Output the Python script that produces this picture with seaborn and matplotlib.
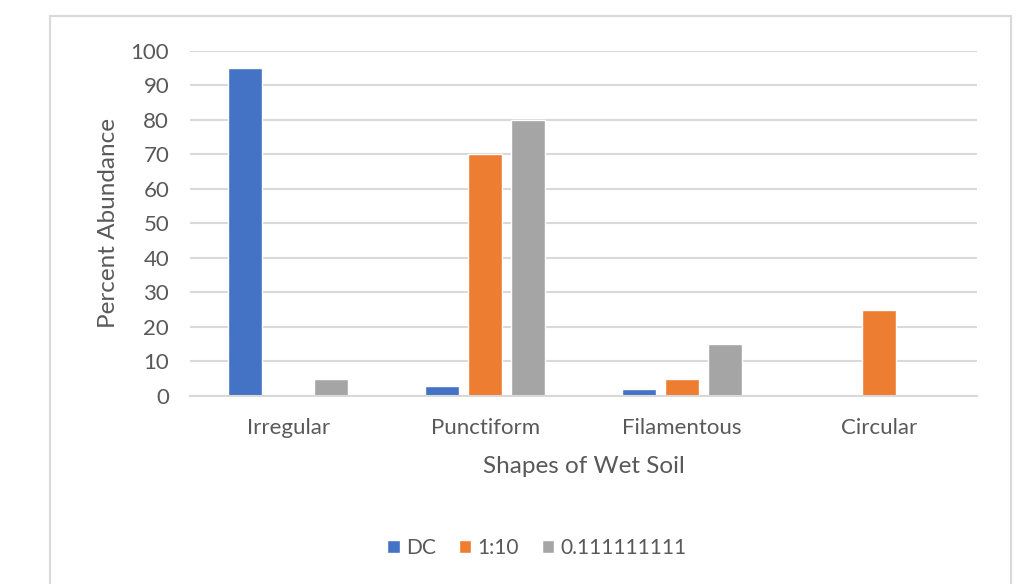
import pandas as pd
import seaborn as sns
import matplotlib.pyplot as plt
from matplotlib.patches import Rectangle

# data
shapes = ["Irregular", "Punctiform", "Filamentous", "Circular"]
series = ["DC", "1:10", "0.111111111"]
dc = [95, 3, 2, 0]
ratio_1_10 = [0, 70, 5, 25]
ratio_small = [5, 80, 15, 0]

df = pd.DataFrame({
    "Shape": shapes * 3,
    "Series": [s for s in series for _ in shapes],
    "Percent": dc + ratio_1_10 + ratio_small,
})

sns.set_style("white")
plt.rcParams["font.family"] = ["Lato", "DejaVu Sans"]

fig = plt.figure(figsize=(10.16, 5.84), dpi=100)
ax = fig.add_axes([0.187, 0.322, 0.775, 0.591])

# chart border like excel
fig.patches.append(Rectangle((50 / 1016, -0.1), 961 / 1016, 1.1 - 16 / 584,
                             transform=fig.transFigure, fill=False,
                             edgecolor="#d9d9d9", linewidth=1.5))

palette = ["#4472c4", "#ed7d31", "#a5a5a5"]
sns.barplot(data=df, x="Shape", y="Percent", hue="Series", palette=palette,
            width=0.655, gap=0.21, ax=ax, saturation=1, legend=True)

ax.set_ylim(0, 100)
ax.set_yticks(range(0, 101, 10))
ax.set_xlim(-0.5, 3.5)
ax.yaxis.grid(True, color="#d9d9d9", linewidth=1.5)
ax.set_axisbelow(True)
for side in ["top", "right", "left"]:
    ax.spines[side].set_visible(False)
ax.spines["bottom"].set_color("#d9d9d9")
ax.spines["bottom"].set_linewidth(1.5)
ax.tick_params(axis="both", length=0, labelsize=16, labelcolor="#595959")
ax.tick_params(axis="x", pad=16)
ax.tick_params(axis="y", pad=15)
ax.set_xlabel("Shapes of Wet Soil", fontsize=17.5, color="#595959", labelpad=13)
ax.set_ylabel("Percent Abundance", fontsize=17.5, color="#595959", labelpad=8)

ax.legend(loc="center", bbox_to_anchor=(537 / 1016, 1 - 548 / 584),
          bbox_transform=fig.transFigure, ncol=3, frameon=False,
          fontsize=15, labelcolor="#595959", handlelength=0.6,
          handleheight=0.6, handletextpad=0.3, columnspacing=1.1)

plt.savefig("out.png", dpi=100)
